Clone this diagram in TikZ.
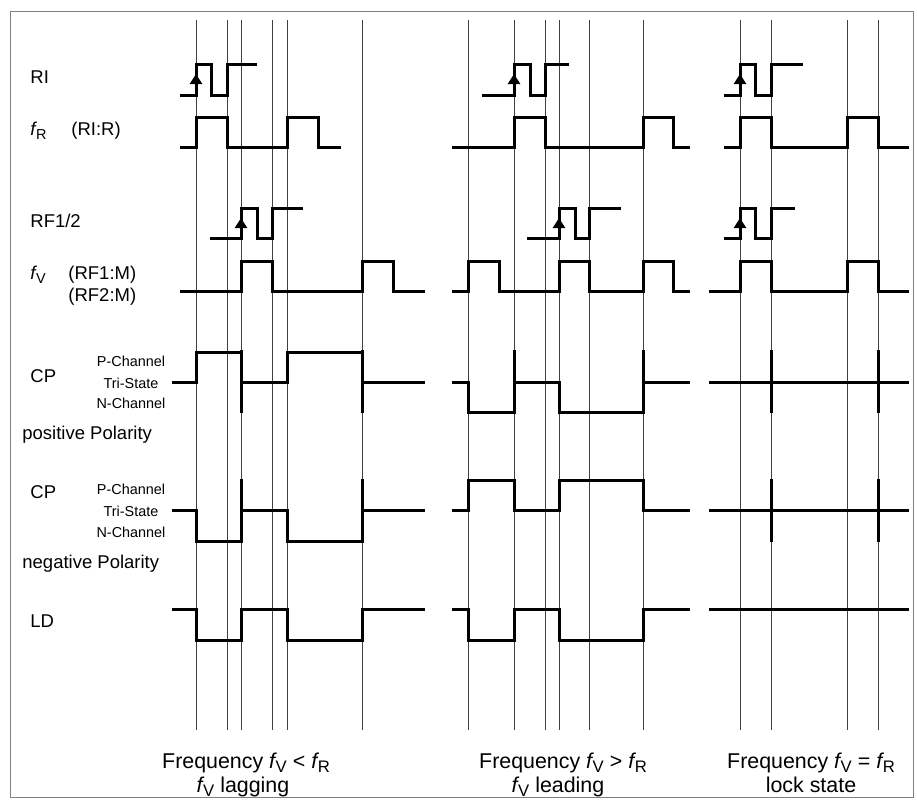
\documentclass[tikz,border=0pt]{standalone}
\usepackage{fontspec}
\setmainfont{Liberation Sans}
\usetikzlibrary{arrows.meta}
\newcommand{\freq}[1]{\textit{f}\kern-0.06em\raisebox{-0.22em}{\scalebox{0.78}{#1}}}

\begin{document}
\begin{tikzpicture}[x=0.5pt, y=-0.5pt]
        \tikzstyle{every node}=[inner sep=0pt, anchor=base west, font=\fontsize{9.25}{11}\selectfont]
        \tikzstyle{sig}=[line width=1.5pt]
        \tikzstyle{sigtick}=[line width=1.5pt]
        \tikzstyle{vline}=[line width=0.5pt, black!75]
        \tikzstyle{rise}=[line width=1.5pt, -{Triangle[length=5pt, width=6pt]}]
        \tikzstyle{lvl}=[anchor=base, font=\fontsize{7.2}{9}\selectfont]
        \tikzstyle{captxt}=[anchor=base, font=\fontsize{10.7}{13}\selectfont]
        \useasboundingbox (0,0) rectangle (917,800);
        \draw[gray, line width=0.5pt] (10,11) rectangle (913,797);
        \foreach \t in {196,227,241,272,287,362,468,514,545,559,589,643,740,771,847,878}
            \draw[vline] (\t,20) -- (\t,730);
        % labels
        \node (ri) at (30,83) {RI};
        \node (fr) at (30,135) {\freq{R}};
        \node (frdiv) at (71,135) {(RI:R)};
        \node (rf) at (30,227) {RF1/2};
        \node (fv) at (30,279) {\freq{V}};
        \node (fvdiva) at (68,279) {(RF1:M)};
        \node (fvdivb) at (68,301) {(RF2:M)};
        \node (cppos) at (30,382) {CP};
        \node[lvl] (ppos) at (131,366) {P-Channel};
        \node[lvl] (tpos) at (131,388) {Tri-State};
        \node[lvl] (npos) at (131,408) {N-Channel};
        \node (pospol) at (22,439) {positive Polarity};
        \node (cpneg) at (30,498) {CP};
        \node[lvl] (pneg) at (131,494) {P-Channel};
        \node[lvl] (tneg) at (131,516) {Tri-State};
        \node[lvl] (nneg) at (131,537) {N-Channel};
        \node (negpol) at (22,568) {negative Polarity};
        \node (ld) at (30,627) {LD};
        \node[captxt] (lagtop) at (246,768) {Frequency \freq{V} < \freq{R}};
        \node[captxt] (lagbot) at (243,792) {\freq{V} lagging};
        \node[captxt] (leadtop) at (563,768) {Frequency \freq{V} > \freq{R}};
        \node[captxt] (leadbot) at (558,792) {\freq{V} leading};
        \node[captxt] (locktop) at (811,768) {Frequency \freq{V} = \freq{R}};
        \node[captxt] (lockbot) at (811,792) {lock state};
        % RI
        \draw[sig] (180,95) -| (196,64) -| (211,95) -| (227,64) -- (257,64);
        \draw[sig] (482,95) -| (514,64) -| (530,95) -| (545,64) -- (569,64);
        \draw[sig] (724,95) -| (740,64) -| (755,95) -| (771,64) -- (803,64);
        \draw[rise] (196,95) -- (196,74);
        \draw[rise] (514,95) -- (514,74);
        \draw[rise] (740,95) -- (740,74);
        % fR
        \draw[sig] (180,147) -| (196,117) -| (227,147) -| (287,117) -| (318,147) -- (341,147);
        \draw[sig] (452,147) -| (514,117) -| (545,147) -| (643,117) -| (673,147) -- (690,147);
        \draw[sig] (724,147) -| (740,117) -| (771,147) -| (847,117) -| (878,147) -- (909,147);
        % RF1/2
        \draw[sig] (210,238) -| (241,208) -| (257,238) -| (272,208) -- (303,208);
        \draw[sig] (527,238) -| (559,208) -| (575,238) -| (589,208) -- (621,208);
        \draw[sig] (724,238) -| (740,208) -| (755,238) -| (771,208) -- (795,208);
        \draw[rise] (241,238) -- (241,218);
        \draw[rise] (559,238) -- (559,218);
        \draw[rise] (740,238) -- (740,218);
        % fV
        \draw[sig] (180,291) -| (241,261) -| (272,291) -| (362,261) -| (393,291) -- (425,291);
        \draw[sig] (452,291) -| (468,261) -| (499,291) -| (559,261) -| (589,291) -| (643,261) -| (673,291) -- (690,291);
        \draw[sig] (709,291) -| (740,261) -| (771,291) -| (847,261) -| (878,291) -- (909,291);
        % CP positive
        \draw[sig] (172,382) -| (196,352) -| (241,382) -| (287,352) -| (362,382) -- (425,382);
        \draw[sig] (452,382) -| (468,412) -| (514,382) -| (559,412) -| (643,382) -- (690,382);
        \draw[sig] (709,382) -- (909,382);
        \foreach \t in {241,362,514,643,771,878}
            \draw[sigtick] (\t,350) -- (\t,413);
        % CP negative
        \draw[sig] (172,510) -| (196,541) -| (241,510) -| (287,541) -| (362,510) -- (425,510);
        \draw[sig] (452,510) -| (468,480) -| (514,510) -| (559,480) -| (643,510) -- (690,510);
        \draw[sig] (709,510) -- (909,510);
        \foreach \t in {241,362,771,878}
            \draw[sigtick] (\t,479) -- (\t,542);
        % LD
        \draw[sig] (172,609) -| (196,640) -| (241,609) -| (287,640) -| (362,609) -- (425,609);
        \draw[sig] (452,609) -| (468,640) -| (514,609) -| (559,640) -| (643,609) -- (690,609);
        \draw[sig] (709,609) -- (909,609);
    \end{tikzpicture}
\end{document}
